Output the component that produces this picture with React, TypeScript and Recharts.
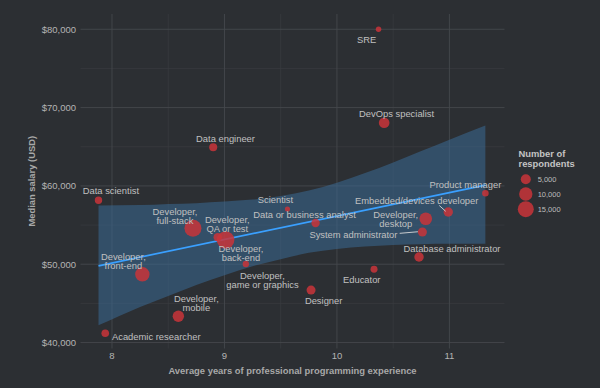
import React from 'react';
import {
  ComposedChart,
  Scatter,
  Line,
  Area,
  XAxis,
  YAxis,
  ZAxis,
  CartesianGrid,
  Label,
} from 'recharts';

// Developer roles: experience, salary, respondents
const roles = [
  'SRE',
  'DevOps specialist',
  'Data engineer',
  'Data scientist',
  'Product manager',
  'Embedded/devices developer',
  'Developer, desktop',
  'System administrator',
  'Database administrator',
  'Educator',
  'Designer',
  'Data or business analyst',
  'Scientist',
  'Developer, full-stack',
  'Developer, QA or test',
  'Developer, back-end',
  'Developer, game or graphics',
  'Developer, front-end',
  'Developer, mobile',
  'Academic researcher',
];
const experienceYears = [
  10.37, 10.42, 8.9, 7.88, 11.32, 10.99, 10.79, 10.76, 10.73, 10.33, 9.77, 9.81, 9.56, 8.72,
  8.94, 9.01, 9.19, 8.27, 8.59, 7.94,
];
const medianSalary = [
  80000, 68070, 64930, 58160, 59060, 56670, 55810, 54110, 50920, 49350, 46700, 55260, 57050,
  54590, 53440, 53090, 50030, 48710, 43350, 41180,
];
const respondents = [
  500, 5800, 2700, 2100, 1400, 4250, 8800, 3800, 4300, 1700, 3800, 3100, 300, 17100, 3100,
  18400, 1200, 11900, 6900, 2300,
];

// linear fit + confidence band
const fitYears = [7.88, 11.32];
const fitSalary = [49800, 60100];
const bandYears = [7.88, 8.25, 8.5, 8.75, 9, 9.25, 9.5, 9.75, 10, 10.25, 10.5, 10.75, 11, 11.32];
const bandLow = [
  42200, 44550, 45950, 47350, 48600, 49750, 50650, 51450, 51950, 52250, 52450, 52550, 52600,
  52600,
];
const bandHigh = [
  57500, 57550, 57700, 57800, 58000, 58250, 58700, 59400, 60400, 61650, 63000, 64450, 65900,
  67700,
];

const xTicks = [8, 9, 10, 11];
const xMinor = [8.5, 9.5, 10.5];
const yTicks = [40000, 50000, 60000, 70000, 80000];
const yMinor = [45000, 55000, 65000, 75000];
const legendSizes = [5000, 10000, 15000];

const points = roles.map((role, i) => ({
  role,
  x: experienceYears[i],
  y: medianSalary[i],
  z: respondents[i],
}));
const fit = fitYears.map((x, i) => ({ x, fit: fitSalary[i] }));
const band = bandYears.map((x, i) => ({ x, low: bandLow[i], high: bandHigh[i] }));

const FONT = '"Liberation Sans", Arial, sans-serif';
const BG = '#2c2f33';
const RED = '#c9343a';
const Z_DOMAIN = [0, 20000];
const Z_RANGE = [17.28, 262.3];

const radiusFor = (n: number) =>
  Math.sqrt((Z_RANGE[0] + ((Z_RANGE[1] - Z_RANGE[0]) * n) / Z_DOMAIN[1]) / Math.PI);

// label placement (offsets from the point centre, px)
const labelLayout: Record<string, { dx: number; dy: number; leader?: number[] }> = {
  SRE: { dx: -12, dy: 9.7 },
  'DevOps specialist': { dx: 12.4, dy: -10 },
  'Data engineer': { dx: 12.3, dy: -9.7 },
  'Data scientist': { dx: 12.4, dy: -10 },
  'Product manager': { dx: -20, dy: -9.6 },
  'Embedded/devices developer': { dx: -31.6, dy: -12.3, leader: [-9, -6.5, -2.6, -0.7] },
  'Developer, desktop': { dx: -30, dy: -0.7 },
  'System administrator': { dx: -69, dy: 2.3, leader: [-22.7, 1.3, -4.5, -0.3] },
  'Database administrator': { dx: 33, dy: -9.3 },
  Educator: { dx: -12.3, dy: 9.7 },
  Designer: { dx: 12.6, dy: 10 },
  'Data or business analyst': { dx: -11, dy: -9.3 },
  Scientist: { dx: -12, dy: -9.7 },
  'Developer, full-stack': { dx: -18, dy: -13.1 },
  'Developer, QA or test': { dx: 9.6, dy: -13.7 },
  'Developer, back-end': { dx: 15.4, dy: 12.5 },
  'Developer, game or graphics': { dx: 16.6, dy: 15.3 },
  'Developer, front-end': { dx: -19, dy: -13.8 },
  'Developer, mobile': { dx: 18, dy: -13.7 },
  'Academic researcher': { dx: 51, dy: 3 },
};

const LINE_GAP = 9;

const PointLabel = (props: any) => {
  const { cx, cy, payload } = props;
  const role: string = payload.role;
  const lay = labelLayout[role] || { dx: 0, dy: -10 };
  const lines = role.startsWith('Developer,') ? ['Developer,', role.slice(11)] : [role];
  const top = cy + lay.dy - ((lines.length - 1) * LINE_GAP) / 2;
  const x = cx + lay.dx;
  return (
    <g>
      {lay.leader && (
        <line
          x1={cx + lay.leader[0]}
          y1={cy + lay.leader[1]}
          x2={cx + lay.leader[2]}
          y2={cy + lay.leader[3]}
          stroke="#d8d8d8"
          strokeWidth={0.9}
        />
      )}
      <text
        x={x}
        y={top}
        textAnchor="middle"
        dominantBaseline="central"
        fill="#c0c0c0"
        fontSize={9.4}
        fontFamily={FONT}
      >
        {lines.map((t, i) => (
          <tspan key={i} x={x} dy={i === 0 ? 0 : LINE_GAP}>
            {t}
          </tspan>
        ))}
      </text>
    </g>
  );
};

const XTitle = (props: any) => {
  const { viewBox } = props;
  return (
    <text
      x={viewBox.x + viewBox.width / 2}
      y={370.7}
      textAnchor="middle"
      dominantBaseline="central"
      fill="#a8a8a8"
      fontSize={9.4}
      fontWeight="bold"
      fontFamily={FONT}
    >
      Average years of professional programming experience
    </text>
  );
};

const YTitle = (props: any) => {
  const { viewBox } = props;
  const cx = 31;
  const cy = viewBox.y + viewBox.height / 2;
  return (
    <text
      x={cx}
      y={cy}
      transform={`rotate(-90, ${cx}, ${cy})`}
      textAnchor="middle"
      dominantBaseline="central"
      fill="#a8a8a8"
      fontSize={9.4}
      fontWeight="bold"
      fontFamily={FONT}
    >
      Median salary (USD)
    </text>
  );
};

const SizeLegend = () => {
  const rowY = [179.3, 194, 209.2];
  return (
    <svg
      width={600}
      height={388}
      style={{ position: 'absolute', left: 0, top: 0, pointerEvents: 'none' }}
    >
      <text x={518.5} y={152.7} dominantBaseline="central" fill="#c4c4c4" fontSize={9.4} fontWeight="bold" fontFamily={FONT}>
        <tspan x={518.5} dy={0}>Number of</tspan>
        <tspan x={518.5} dy={10.2}>respondents</tspan>
      </text>
      {legendSizes.map((n, i) => (
        <g key={n}>
          <circle cx={525.8} cy={rowY[i]} r={radiusFor(n)} fill={RED} fillOpacity={0.85} />
          <text x={537.7} y={rowY[i]} dominantBaseline="central" fill="#bdbdbd" fontSize={7.5} fontFamily={FONT}>
            {n.toLocaleString('en-US')}
          </text>
        </g>
      ))}
    </svg>
  );
};

export default function App() {
  return (
    <div
      style={{ position: 'absolute', left: 0, top: 0, width: 600, height: 388, background: BG }}
    >
      <ComposedChart
        width={600}
        height={388}
        margin={{ top: 14, right: 95.5, bottom: 0, left: 0.5 }}
      >
        <CartesianGrid stroke="#393c41" strokeWidth={0.7} horizontalValues={yMinor} verticalValues={xMinor} />
        <CartesianGrid stroke="#45484d" strokeWidth={0.9} horizontalValues={yTicks} verticalValues={xTicks} />
        <XAxis
          type="number"
          dataKey="x"
          domain={[7.72, 11.49]}
          ticks={xTicks}
          allowDataOverflow
          axisLine={false}
          tickLine={false}
          tickSize={0}
          tickMargin={4}
          height={39.5}
          tick={{ fill: '#b4b4b4', fontSize: 9.5, fontFamily: FONT }}
        >
          <Label content={<XTitle />} />
        </XAxis>
        <YAxis
          type="number"
          dataKey="y"
          domain={[39240, 81950]}
          ticks={yTicks}
          allowDataOverflow
          axisLine={false}
          tickLine={false}
          tickSize={0}
          tickMargin={4.5}
          width={80}
          tickFormatter={(v: number) => `$${v.toLocaleString('en-US')}`}
          tick={{ fill: '#b4b4b4', fontSize: 9.5, fontFamily: FONT }}
        >
          <Label content={<YTitle />} />
        </YAxis>
        <ZAxis type="number" dataKey="z" domain={Z_DOMAIN} range={Z_RANGE} />
        <Area
          data={band}
          dataKey={(d: any) => [d.low, d.high]}
          type="monotone"
          stroke="none"
          fill="#3b6a94"
          fillOpacity={0.55}
          isAnimationActive={false}
          activeDot={false}
        />
        <Scatter data={points} fill={RED} fillOpacity={0.85} isAnimationActive={false} />
        <Line
          data={fit}
          dataKey="fit"
          type="linear"
          stroke="#3aa0ff"
          strokeWidth={1.7}
          dot={false}
          activeDot={false}
          isAnimationActive={false}
        />
        <Scatter data={points} shape={<PointLabel />} isAnimationActive={false} />
      </ComposedChart>
      <SizeLegend />
    </div>
  );
}
